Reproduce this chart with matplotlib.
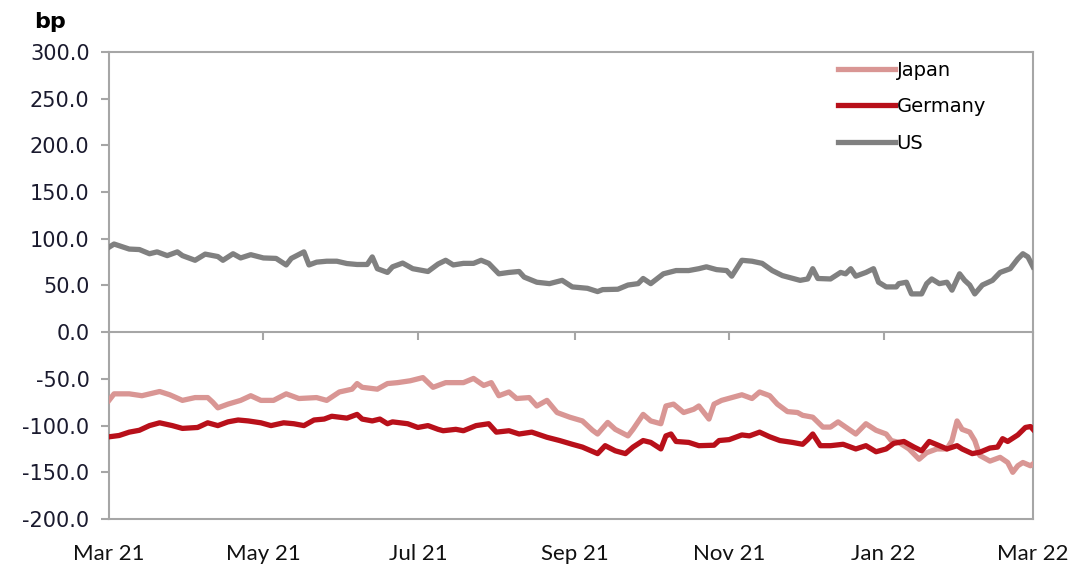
import matplotlib
matplotlib.use("Agg")
import matplotlib.pyplot as plt
import numpy as np
import pandas as pd

plt.rcParams['axes.unicode_minus'] = False

base_date = "2021-03-01"

us_days = [0, 2, 8, 12, 16, 19, 23, 27, 29, 34, 38, 43, 45, 49, 52, 56, 61, 66, 70, 72, 77, 79, 82, 86, 90,
           94, 98, 102, 104, 106, 110, 112, 116, 120, 126, 130, 133, 136, 140, 144, 147, 150, 154, 158, 162,
           164, 169, 174, 179, 183, 189, 193, 195, 201, 205, 209, 211, 214, 219, 224, 229, 233, 236, 240, 244,
           246, 250, 254, 258, 262, 266, 273, 276, 278, 280, 285, 289, 291, 293, 295, 299, 302, 304, 307, 311,
           312, 315, 317, 321, 323, 325, 328, 331, 333, 336, 338, 340, 342, 345, 349, 352, 356, 359, 361, 363, 365]
us_vals = [91, 94.4, 89, 88.5, 84, 86, 82, 86, 82, 77, 83.6, 81, 77, 84, 79.5, 83, 79.5, 79, 72, 79, 86, 72, 75, 76, 76,
           73.5, 72.5, 72.5, 80.6, 68, 64, 70, 74, 68, 65, 73, 77, 72, 73.7, 73.7, 77, 73.7, 62.5, 64, 65,
           59, 53.5, 52, 55.5, 48.5, 47, 43.5, 45.6, 46, 50.5, 52, 57.5, 52, 62.5, 66, 66, 68, 70, 67, 66,
           60, 77, 76, 73.7, 66, 60.6, 55.5, 57, 68, 57.5, 57, 64, 62.5, 68, 60, 64, 68, 53.5, 48.5, 48.5,
           52, 53.5, 41, 41, 52, 57, 52, 53.5, 45, 62.5, 55.5, 50.5, 41, 50.5, 55.5, 64, 68, 78.5, 84, 80.6, 70]

japan_days = [0, 2, 8, 13, 20, 24, 29, 34, 39, 41, 43, 47, 52, 56, 60, 65, 70, 75, 82, 86, 91, 96, 98, 100, 106,
              110, 114, 119, 124, 128, 133, 140, 144, 148, 151, 154, 158, 161, 166, 169, 173, 177, 182, 187, 191,
              193, 197, 200, 205, 207, 211, 214, 218, 220, 223, 227, 231, 233, 237, 239, 242, 246, 250, 254, 257,
              261, 264, 268, 272, 274, 278, 282, 285, 288, 291, 295, 299, 303, 307, 309, 312, 316, 320, 323, 327,
              331, 333, 335, 337, 340, 342, 344, 348, 352, 355, 357, 359, 361, 364, 365]
japan_vals = [-73, -66, -66, -68, -63.5, -67, -73, -70, -70, -75, -81, -77, -73, -68, -73, -73, -66, -71, -70, -73,
              -64, -61, -55, -59, -61, -55, -54, -52, -48.6, -59, -54, -54, -49.5, -57, -54, -68, -64, -71, -70,
              -79, -73, -86, -91, -95, -105, -109, -96.6, -104, -111, -104, -88, -95, -98, -79, -77, -86, -82.5,
              -79, -93, -77, -73, -70, -67, -71, -64, -68, -77, -85, -86, -89, -91, -101.6, -101.6, -96, -101.6,
              -109, -98, -105, -109, -116, -118, -125, -136, -129, -125, -125, -116, -95, -104, -107, -116, -132,
              -138, -134, -139.5, -150, -143, -139.5, -143, -141]

germany_days = [0, 4, 8, 12, 16, 20, 25, 29, 35, 39, 43, 47, 51, 55, 60, 64, 69, 73, 77, 81, 85, 88, 94, 98, 100,
                104, 107, 110, 112, 118, 122, 126, 130, 132, 137, 140, 145, 150, 153, 158, 162, 167, 173, 178, 183,
                187, 193, 196, 200, 204, 207, 211, 214, 218, 220, 222, 224, 229, 233, 239, 241, 245, 250, 253, 257,
                261, 265, 270, 274, 276, 278, 281, 285, 290, 295, 299, 303, 307, 310, 314, 318, 321, 324, 328, 331,
                335, 337, 341, 344, 348, 351, 353, 355, 359, 362, 364, 365]
germany_vals = [-112, -110.6, -107, -105, -100, -97, -100, -103, -102, -97, -100, -96, -94, -95, -97, -100, -97, -98,
                -100, -94, -93, -90, -92, -88, -93, -95, -93, -98, -96, -98, -102, -100, -104, -105.5, -104, -105.5,
                -100, -98, -107, -105.5, -109, -107, -112.5, -116, -120, -123, -130, -121.5, -127, -130, -123, -116,
                -118, -125, -111, -109, -117, -118, -121.5, -121, -116, -115, -110, -111, -107, -112, -116, -118,
                -120, -115, -109, -121.5, -121.5, -120, -125, -121.5, -128, -125, -119, -117, -123, -127, -117,
                -121.5, -125, -121.5, -125, -130, -128.5, -124, -123, -114, -117, -110, -102, -101, -104]

series_names = ["Japan", "Germany", "US"]
series_colors = ["#d99694", "#b8101a", "#808080"]

y_ticks = [-200, -150, -100, -50, 0, 50, 100, 150, 200, 250, 300]
x_tick_dates = ["2021-03-01", "2021-05-01", "2021-07-01", "2021-09-01", "2021-11-01", "2022-01-01", "2022-03-01"]
x_tick_labels = ["Mar 21", "May 21", "Jul 21", "Sep 21", "Nov 21", "Jan 22", "Mar 22"]

b = pd.Timestamp(base_date)
def to_dates(days):
    return [b + pd.Timedelta(days=d) for d in days]

fig = plt.figure(figsize=(10.76, 5.66), dpi=100)
ax = fig.add_axes([109/1076, 1 - 519/566, (1033-109)/1076, (519-52)/566])

spine_col = "#a6a6a6"
lw = 3.8
ax.plot(to_dates(us_days), us_vals, color=series_colors[2], lw=lw, label="US", zorder=3)
ax.plot(to_dates(japan_days), japan_vals, color=series_colors[0], lw=lw, label="Japan", zorder=3)
ax.plot(to_dates(germany_days), germany_vals, color=series_colors[1], lw=lw, label="Germany", zorder=4)

ax.set_ylim(-200, 300)
ax.set_xlim(pd.Timestamp(x_tick_dates[0]), pd.Timestamp(x_tick_dates[-1]))
ax.set_yticks(y_ticks)
ax.set_yticklabels([f"{v:.1f}" for v in y_ticks], fontsize=15, color="#1a1a2e", family="DejaVu Sans")
ax.tick_params(axis='y', direction='out', length=6, width=1.5, color=spine_col, pad=8)

xt = [pd.Timestamp(d) for d in x_tick_dates]
ax.set_xticks(xt)
ax.set_xticklabels(x_tick_labels, fontsize=16, color="#111111", family="Lato")
ax.tick_params(axis='x', length=0, pad=18)

for s in ax.spines.values():
    s.set_color(spine_col)
    s.set_linewidth(1.5)

# horizontal axis at zero with tick marks
sec = ax.secondary_xaxis(0.4)
sec.set_xticks(xt)
sec.set_xticklabels([])
sec.tick_params(axis='x', direction='out', length=6, width=1.5, color=spine_col)
sec.spines['bottom'].set_color(spine_col)
sec.spines['bottom'].set_linewidth(1.5)

fig.text(34/1076, 1 - 22/566, "bp", fontsize=16, fontweight='bold', va='center', ha='left', family="DejaVu Sans")

h, l = ax.get_legend_handles_labels()
order = [l.index(n) for n in series_names]
ax.legend([h[i] for i in order], [l[i] for i in order], loc='upper left',
          bbox_to_anchor=((836-109)/924 - 0.007, 1.0), frameon=False,
          handlelength=2.9, handletextpad=0.1, labelspacing=0.9, borderaxespad=0.05,
          prop={'family': 'DejaVu Sans', 'size': 14})

fig.savefig("out.png", dpi=100)
